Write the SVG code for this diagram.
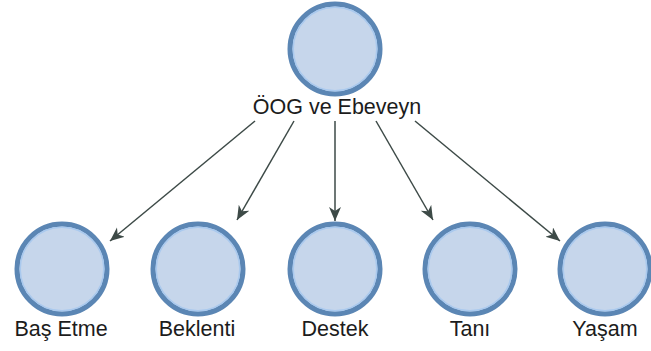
<svg xmlns="http://www.w3.org/2000/svg" width="651" height="351" viewBox="0 0 651 351">
  <style>
    .node-ring { fill: #c6d6eb; stroke: #5b86b4; stroke-width: 5; }
    .node-glow { fill: none; stroke: #a9c9ee; stroke-width: 1.5; }
    .label { font-family: "Liberation Sans", Arial, sans-serif; font-size: 21.5px; fill: #1c1c1c; text-anchor: middle; }
    .edge { stroke: #3d4a47; stroke-width: 1.5; fill: none; marker-end: url(#arrow); }
  </style>
  <defs>
    <marker id="arrow" markerUnits="userSpaceOnUse" markerWidth="16" markerHeight="14" refX="14" refY="6" orient="auto">
      <path d="M0,0 L14,6 L0,12 L4,6 z" fill="#3d4a47"/>
    </marker>
  </defs>
  <rect width="651" height="351" fill="#ffffff"/>

  <g id="connectors">
    <line class="edge" x1="255" y1="121" x2="110" y2="241"/>
    <line class="edge" x1="294" y1="121" x2="237" y2="220"/>
    <line class="edge" x1="335" y1="121" x2="335" y2="221"/>
    <line class="edge" x1="376" y1="121" x2="433" y2="220"/>
    <line class="edge" x1="415" y1="121" x2="560" y2="241"/>
  </g>

  <g id="root">
    <circle class="node-ring" cx="335" cy="49" r="45"/>
    <circle class="node-glow" cx="335" cy="49" r="41.8"/>
    <text class="label" x="337" y="114">ÖOG ve Ebeveyn</text>
  </g>

  <g id="bas-etme">
    <circle class="node-ring" cx="62" cy="269" r="45"/>
    <circle class="node-glow" cx="62" cy="269" r="41.8"/>
    <text class="label" x="61" y="336">Baş Etme</text>
  </g>

  <g id="beklenti">
    <circle class="node-ring" cx="198" cy="269" r="45"/>
    <circle class="node-glow" cx="198" cy="269" r="41.8"/>
    <text class="label" x="197" y="336">Beklenti</text>
  </g>

  <g id="destek">
    <circle class="node-ring" cx="335" cy="269" r="45"/>
    <circle class="node-glow" cx="335" cy="269" r="41.8"/>
    <text class="label" x="335" y="336">Destek</text>
  </g>

  <g id="tani">
    <circle class="node-ring" cx="470" cy="269" r="45"/>
    <circle class="node-glow" cx="470" cy="269" r="41.8"/>
    <text class="label" x="470" y="336">Tanı</text>
  </g>

  <g id="yasam">
    <circle class="node-ring" cx="605" cy="269" r="45"/>
    <circle class="node-glow" cx="605" cy="269" r="41.8"/>
    <text class="label" x="605" y="336">Yaşam</text>
  </g>
</svg>
